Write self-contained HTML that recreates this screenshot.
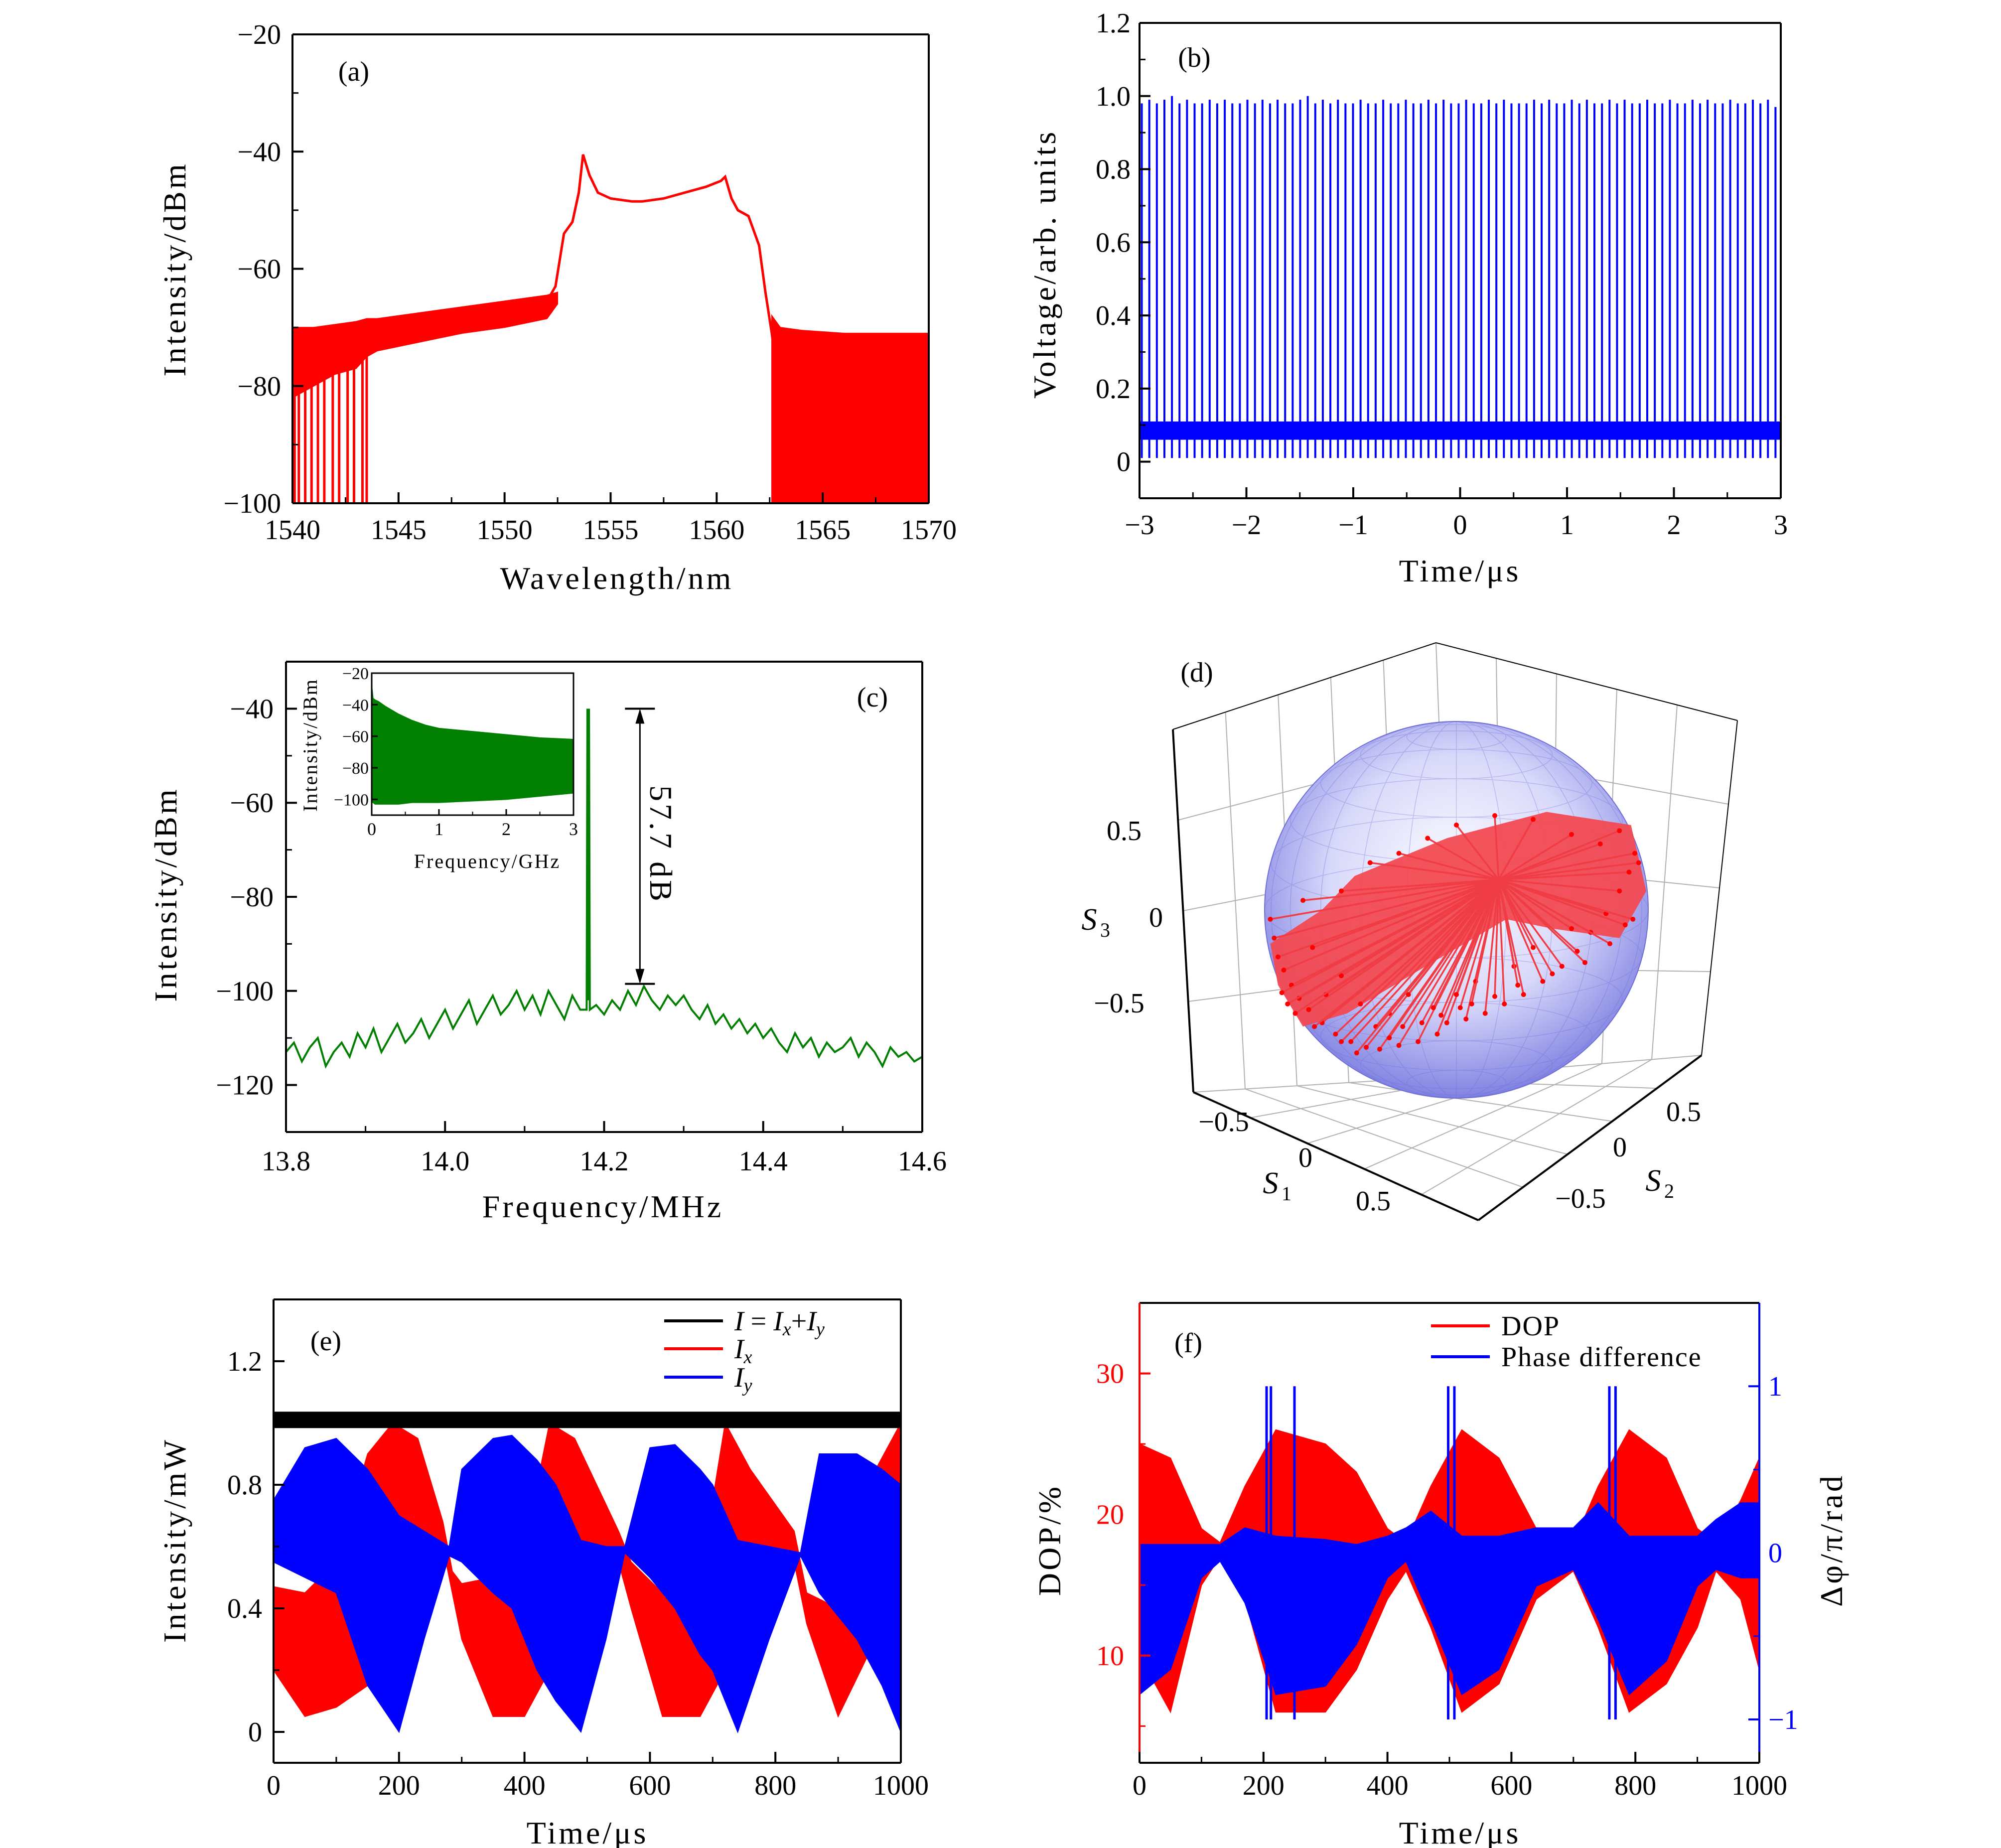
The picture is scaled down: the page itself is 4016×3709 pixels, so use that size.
<!DOCTYPE html>
<html><head><meta charset="utf-8">
<style>
html,body{margin:0;padding:0;background:#fff;}
svg{display:block;font-family:"Liberation Serif","DejaVu Serif",serif;}
</style></head>
<body>
<svg id="fig" width="4016" height="3709" viewBox="0 0 4016 3709" xmlns="http://www.w3.org/2000/svg">
<defs>
<radialGradient id="sphg" cx="0.5" cy="0.42" r="0.6">
<stop offset="0" stop-color="#ffffff"/><stop offset="0.55" stop-color="#d8d8fa"/><stop offset="1" stop-color="#7a7ce0"/>
</radialGradient>
</defs>
</svg>
<script>
// ---------- data ----------
// (a) spectrum
const aWl=[1540,1541,1542,1543,1544,1546,1548,1550,1551,1552,1552.4,1552.8,1553.2,1553.5,1553.7,1554.0,1554.4,1555,1556,1556.5,1557.5,1558.5,1559.5,1560.2,1560.4,1560.7,1561.0,1561.5,1562.0,1562.3,1562.6,1562.9];
const aLvl=[-72,-71.5,-71,-70.5,-70,-69,-68,-67,-66.5,-65.5,-63,-54,-52,-47,-40.5,-44,-47,-48,-48.5,-48.5,-48,-47,-46,-45,-44.3,-48,-50,-51,-56,-64,-71,-80];
const aNoiseWl=[1540,1541,1542,1543,1543.5,1544,1546,1548,1550,1552,1552.5];
const aNoiseHi=[-70,-70,-69.5,-69,-68.5,-68.5,-67.5,-66.5,-65.5,-64.5,-64];
const aNoiseLo=[-82,-80,-78,-77,-75,-74,-72.5,-71,-70,-68.5,-66];
const aRightWl=[1562.6,1563,1564,1566,1568,1570];
const aRightHi=[-68,-70,-70.5,-71,-71,-71];
const aDipWl=[1540.1,1540.3,1540.6,1540.9,1541.2,1541.5,1541.9,1542.2,1542.6,1542.9,1543.3,1543.5,1563.5,1563.7,1564.0,1564.2,1564.5];
// (b) pulse train
const bPeaks=[0.98,0.99,0.98,0.99,1.0,0.98,0.99,0.98,0.98,0.99,0.98,0.99,0.98,0.98,0.99,0.98,0.99,0.98,0.99,0.98,0.98,0.99,1.0,0.98,0.99,0.98,0.99,0.98,0.98,0.99,0.98,0.98,0.99,0.98,0.98,0.99,0.98,0.98,0.99,0.98,0.99,0.98,0.98,0.99,0.98,0.98,0.99,0.98,0.99,0.98,0.98,0.98,0.99,0.98,0.99,0.98,0.98,0.99,0.98,0.99,0.98,0.98,0.99,0.98,0.99,0.98,0.98,0.99,0.98,0.98,0.99,0.98,0.98,0.99,0.98,0.99,0.98,0.98,0.99,0.98,0.98,0.99,0.98,0.99,0.97];
const bBaseHi=0.11, bBaseLo=0.06, bDip=0.01;
// (c) RF spectrum
const cFreqStart=13.8, cFreqStep=0.01;
const cLevels=[-113,-111,-115,-112,-110,-116,-113,-111,-114,-109,-112,-108,-113,-110,-107,-111,-109,-106,-110,-107,-104,-108,-105,-102,-107,-104,-101,-105,-103,-100,-104,-101,-105,-100,-103,-106,-101,-104,-102,-103,-105,-102,-104,-100,-103,-99,-102,-104,-101,-103,-101,-104,-106,-103,-107,-105,-108,-106,-109,-107,-110,-108,-111,-113,-109,-112,-110,-114,-111,-113,-112,-110,-114,-111,-113,-116,-112,-114,-113,-115,-114];
const cPeakFreq=14.18, cPeakLevel=-40, cArrowFreq=14.245, cArrowTop=-40, cArrowBot=-98.5;
const insF=[0,0.02,0.05,0.1,0.2,0.4,0.6,0.8,1.0,1.5,2.0,2.5,3.0];
const insHi=[-28,-36,-37,-38,-41,-46,-50,-53,-55,-57,-59,-61,-62];
const insLo=[-102,-102,-103,-103,-103,-103,-102,-102,-102,-101,-100,-98,-96];
// (e)
const eT=[0,50,100,150,200,240,280,300,350,380,420,450,490,530,560,600,640,680,700,740,790,840,870,930,970,1000];
const eYHi=[0.75,0.92,0.95,0.85,0.7,0.65,0.6,0.85,0.95,0.96,0.88,0.8,0.62,0.6,0.6,0.92,0.93,0.85,0.8,0.62,0.6,0.58,0.9,0.9,0.85,0.8];
const eYLo=[0.55,0.5,0.45,0.15,0.0,0.3,0.57,0.55,0.45,0.4,0.2,0.1,0.0,0.3,0.58,0.5,0.4,0.25,0.2,0.0,0.3,0.57,0.45,0.3,0.15,0.0];
const eRT=[0,50,100,150,190,230,270,285,300,350,400,440,480,550,570,620,680,720,760,830,850,900,960,1000];
const eRHi=[0.47,0.45,0.55,0.9,1.0,0.95,0.68,0.52,0.48,0.5,0.6,1.0,0.95,0.65,0.55,0.45,0.5,1.0,0.85,0.65,0.45,0.4,0.85,1.0];
const eRLo=[0.2,0.05,0.08,0.15,0.45,0.55,0.6,0.45,0.3,0.05,0.05,0.2,0.55,0.55,0.4,0.05,0.05,0.2,0.5,0.55,0.35,0.05,0.3,0.5];
const eTotHi=1.035, eTotLo=0.985;
// (f)
const fT=[0,50,100,130,170,220,300,350,400,430,470,520,580,640,700,740,790,850,900,930,970,1000];
const fDopHi=[25,24,19,18,22,26,25,23,19,18,22,26,24,19,18,22,26,24,19,18,21,24];
const fDopLo=[10,6,15,17,14,6,6,9,14,16,12,6,8,14,16,12,6,8,12,16,14,9];
const fPhHi=[0.05,0.05,0.05,0.05,0.15,0.1,0.08,0.05,0.1,0.15,0.25,0.1,0.1,0.15,0.15,0.3,0.1,0.1,0.1,0.2,0.3,0.3];
const fPhLo=[-0.85,-0.7,-0.15,-0.05,-0.3,-0.85,-0.8,-0.55,-0.15,-0.05,-0.4,-0.85,-0.7,-0.2,-0.1,-0.4,-0.85,-0.65,-0.2,-0.1,-0.15,-0.15];
const fJumpT=[205,212,250,498,508,758,768];
// (d) Poincare sphere (normalized screen coords relative to sphere)
const dHub=[0.22,-0.16];
const dCap=[[-0.97,0.18],[-0.7,0.0],[-0.53,-0.18],[-0.05,-0.38],[0.47,-0.52],[0.91,-0.45],[0.99,-0.1],[0.85,0.15],[0.5,0.1],[0.26,0.05],[-0.16,0.3],[-0.57,0.55],[-0.8,0.62],[-0.93,0.4]];
const dEnds=[[-0.97,0.05],[-0.95,0.15],[-0.93,0.25],[-0.9,0.32],[-0.86,0.4],[-0.82,0.47],[-0.77,0.53],[-0.7,0.6],[-0.63,0.66],[-0.55,0.7],[-0.47,0.73],[-0.4,0.74],[-0.3,0.72],[-0.2,0.7],[-0.1,0.66],[-0.05,0.6],[0.05,0.58],[0.15,0.55],[0.25,0.5],[0.35,0.45],[0.45,0.38],[0.55,0.3],[0.63,0.22],[0.7,0.12],[0.78,0.02],[0.85,-0.1],[0.9,-0.2],[0.93,-0.3],[-0.75,0.2],[-0.6,0.35],[-0.5,0.5],[-0.35,0.55],[-0.25,0.45],[-0.12,0.52],[0.0,0.45],[0.1,0.38],[0.3,0.3],[-0.8,-0.05],[-0.6,-0.1],[-0.45,-0.25],[-0.3,-0.3],[-0.15,-0.38],[0.0,-0.45],[0.2,-0.5],[0.4,-0.48],[0.6,-0.4],[0.75,-0.35],[0.85,-0.42],[0.95,-0.25],[0.92,0.05],[-0.68,0.45],[-0.42,0.62],[-0.18,0.6],[0.08,0.5],[0.4,0.2],[0.6,0.1],[-0.88,0.5],[-0.74,0.62],[-0.6,0.7],[-0.52,0.76],[-0.35,0.68],[-0.28,0.62],[-0.08,0.56],[0.02,0.52],[0.2,0.46],[0.32,0.4],[0.5,0.34],[0.67,0.28],[0.8,0.18],[0.88,0.08],[-0.91,0.44],[-0.84,0.55]];

// ---------- helpers ----------
const svg=document.getElementById('fig');
const NS='http://www.w3.org/2000/svg';
const TK=56, TT=64, LS=5;
function mk(tag,attrs,parent){const e=document.createElementNS(NS,tag);for(const k in attrs)e.setAttribute(k,attrs[k]);(parent||svg).appendChild(e);return e;}
function txt(x,y,s,size,anchor,parent,extra){const t=mk('text',Object.assign({x:x,y:y,'font-size':size,'text-anchor':anchor||'middle'},extra||{}),parent);t.textContent=s;return t;}
function scale(d0,d1,p0,p1){return v=>p0+(v-d0)/(d1-d0)*(p1-p0);}
function band(g,sx,sy,xs,hi,lo,color){let p=[];for(let i=0;i<xs.length;i++)p.push(sx(xs[i])+','+sy(hi[i]));for(let i=xs.length-1;i>=0;i--)p.push(sx(xs[i])+','+sy(lo[i]));return mk('polygon',{points:p.join(' '),fill:color,stroke:color,'stroke-width':2},g);}
function frame(g,x0,x1,y0,y1,cols){
  const c=cols||{};
  mk('line',{x1:x0,y1:y1,x2:x1,y2:y1,stroke:'#000','stroke-width':4},g);
  mk('line',{x1:x0,y1:y0,x2:x1,y2:y0,stroke:'#000','stroke-width':4},g);
  mk('line',{x1:x0,y1:y0,x2:x0,y2:y1,stroke:c.left||'#000','stroke-width':4},g);
  mk('line',{x1:x1,y1:y0,x2:x1,y2:y1,stroke:c.right||'#000','stroke-width':4},g);
}
function xticks(g,sx,y1,vals,minors,labels,ly){
  vals.forEach((v,i)=>{mk('line',{x1:sx(v),y1:y1,x2:sx(v),y2:y1-22,stroke:'#000','stroke-width':4},g);txt(sx(v),ly,labels[i],TK,'middle',g);});
  minors.forEach(v=>mk('line',{x1:sx(v),y1:y1,x2:sx(v),y2:y1-12,stroke:'#000','stroke-width':3},g));
}
function yticks(g,sy,x0,vals,minors,labels,lx,color,dir,anchor){
  const d=dir||1,col=color||'#000';
  vals.forEach((v,i)=>{mk('line',{x1:x0,y1:sy(v),x2:x0+22*d,y2:sy(v),stroke:col,'stroke-width':4},g);txt(lx,sy(v)+19,labels[i],TK,anchor||'end',g,{fill:col});});
  minors.forEach(v=>mk('line',{x1:x0,y1:sy(v),x2:x0+12*d,y2:sy(v),stroke:col,'stroke-width':3},g));
}
function title(x,y,s,g){return txt(x,y,s,TT,'middle',g,{'letter-spacing':LS});}
function rtitle(x,y,s,g,rot,col){return txt(x,y,s,TT,'middle',g,{transform:'rotate('+(rot||-90)+' '+x+' '+y+')',fill:col||'#000','letter-spacing':LS});}
function nm(el,n){return el;}

// ---------- panel (a) ----------
(function(){
const g=mk('g',{});
const X0=587,X1=1864,Y0=69,Y1=1010;
const sx=scale(1540,1570,X0,X1), sy=scale(-100,-20,Y1,Y0);
const n=band(g,sx,sy,aNoiseWl,aNoiseHi,aNoiseLo,'#ff0000');
const r=band(g,sx,sy,aRightWl,aRightHi,aRightWl.map(()=>-100),'#ff0000');
aDipWl.forEach(w=>{const l=mk('line',{x1:sx(w),y1:sy(-72),x2:sx(w),y2:sy(-100),stroke:'#ff0000','stroke-width':5},g);});
const pts=aWl.map((w,i)=>sx(w)+','+sy(aLvl[i])).join(' ');
const pl=mk('polyline',{points:pts,fill:'none',stroke:'#ff0000','stroke-width':5},g);
frame(g,X0,X1,Y0,Y1);
xticks(g,sx,Y1,[1540,1545,1550,1555,1560,1565,1570],[1542.5,1547.5,1552.5,1557.5,1562.5,1567.5],['1540','1545','1550','1555','1560','1565','1570'],1082);
yticks(g,sy,X0,[-100,-80,-60,-40,-20],[-90,-70,-50,-30],['−100','−80','−60','−40','−20'],564);
nm(title(1238,1182,'Wavelength/nm',g),'x-axis-title');
nm(rtitle(372,540,'Intensity/dBm',g),'y-axis-title');
nm(txt(710,162,'(a)',TK,'middle',g),'panel-label');
})();

// ---------- panel (b) ----------
(function(){
const g=mk('g',{});
const X0=2287,X1=3574,Y0=46,Y1=1000;
const sx=scale(-3,3,X0,X1), sy=scale(-0.1,1.2,Y1,Y0);
const N=bPeaks.length;
bPeaks.forEach((p,i)=>{const t=-3+(i+0.3)*6/N;const l=mk('line',{x1:sx(t),y1:sy(bDip),x2:sx(t),y2:sy(p),stroke:'#0000ff','stroke-width':4},g);});
const b=mk('rect',{x:X0,y:sy(bBaseHi),width:X1-X0,height:sy(bBaseLo)-sy(bBaseHi),fill:'#0000ff'},g);
frame(g,X0,X1,Y0,Y1);
xticks(g,sx,Y1,[-3,-2,-1,0,1,2,3],[-2.5,-1.5,-0.5,0.5,1.5,2.5],['−3','−2','−1','0','1','2','3'],1072);
yticks(g,sy,X0,[0,0.2,0.4,0.6,0.8,1.0,1.2],[0.1,0.3,0.5,0.7,0.9,1.1],['0','0.2','0.4','0.6','0.8','1.0','1.2'],2269);
nm(title(2930,1167,'Time/μs',g),'x-axis-title');
nm(rtitle(2118,530,'Voltage/arb. units',g),'y-axis-title');
nm(txt(2397,134,'(b)',TK,'middle',g),'panel-label');
})();

// ---------- panel (c) ----------
(function(){
const g=mk('g',{});
const X0=574,X1=1851,Y0=1328,Y1=2272;
const sx=scale(13.8,14.6,X0,X1), sy=scale(-130,-30,Y1,Y0);
let pts=[];cLevels.forEach((v,i)=>{const f=cFreqStart+i*cFreqStep;pts.push([f,v]);});
pts.push([cPeakFreq-0.002,-104],[cPeakFreq-0.001,cPeakLevel],[cPeakFreq+0.001,cPeakLevel],[cPeakFreq+0.002,-104]);
pts.sort((a,b)=>a[0]-b[0]);
const pl=mk('polyline',{points:pts.map(p=>sx(p[0])+','+sy(p[1])).join(' '),fill:'none',stroke:'#007f00','stroke-width':4},g);
const ax=sx(cArrowFreq);
const ar=mk('line',{x1:ax,y1:sy(cArrowTop)+4,x2:ax,y2:sy(cArrowBot)-4,stroke:'#000','stroke-width':3},g);
mk('line',{x1:ax-30,y1:sy(cArrowTop),x2:ax+30,y2:sy(cArrowTop),stroke:'#000','stroke-width':4},g);
mk('line',{x1:ax-30,y1:sy(cArrowBot),x2:ax+30,y2:sy(cArrowBot),stroke:'#000','stroke-width':4},g);
mk('polygon',{points:`${ax},${sy(cArrowTop)} ${ax-9},${sy(cArrowTop)+30} ${ax+9},${sy(cArrowTop)+30}`,fill:'#000'},g);
mk('polygon',{points:`${ax},${sy(cArrowBot)} ${ax-9},${sy(cArrowBot)-30} ${ax+9},${sy(cArrowBot)-30}`,fill:'#000'},g);
nm(rtitle(1305,1695,'57.7 dB',g,90),'dynamic-range-label');
frame(g,X0,X1,Y0,Y1);
xticks(g,sx,Y1,[13.8,14.0,14.2,14.4,14.6],[13.9,14.1,14.3,14.5],['13.8','14.0','14.2','14.4','14.6'],2349);
yticks(g,sy,X0,[-120,-100,-80,-60,-40],[-130,-110,-90,-70,-50,-30],['−120','−100','−80','−60','−40'],549);
nm(title(1210,2443,'Frequency/MHz',g),'x-axis-title');
nm(rtitle(354,1795,'Intensity/dBm',g),'y-axis-title');
nm(txt(1751,1418,'(c)',TK,'middle',g),'panel-label');
const ig=mk('g',{},g);
const IX0=746,IX1=1151,IY0=1351,IY1=1636;
const isx=scale(0,3,IX0,IX1), isy=scale(-110,-20,IY1,IY0);
nm(band(ig,isx,isy,insF,insHi,insLo,'#007f00'),'inset-spectrum-fill');
mk('rect',{x:IX0,y:IY0,width:IX1-IX0,height:IY1-IY0,fill:'none',stroke:'#000','stroke-width':3},ig);
[0,1,2,3].forEach(v=>{mk('line',{x1:isx(v),y1:IY1,x2:isx(v),y2:IY1-12,stroke:'#000','stroke-width':3},ig);txt(isx(v),IY1+40,String(v),36,'middle',ig);});
[0.5,1.5,2.5].forEach(v=>mk('line',{x1:isx(v),y1:IY1,x2:isx(v),y2:IY1-7,stroke:'#000','stroke-width':2},ig));
[-100,-80,-60,-40,-20].forEach(v=>{mk('line',{x1:IX0,y1:isy(v),x2:IX0+12,y2:isy(v),stroke:'#000','stroke-width':3},ig);txt(IX0-6,isy(v)+12,v<0?'−'+(-v):String(v),34,'end',ig);});
nm(txt(978,1742,'Frequency/GHz',40,'middle',ig,{'letter-spacing':3}),'inset-x-title');
nm(txt(636,1495,'Intensity/dBm',40,'middle',ig,{transform:'rotate(-90 636 1495)','letter-spacing':3}),'inset-y-title');
})();

// ---------- panel (d) ----------
(function(){
const g=mk('g',{});
const L1=[2354,1464],B1=[2882,1290],R1=[3487,1446],L0=[2395,2192],B0=[2915,2160],R0=[3415,2118],F0=[2967,2449];
const lerp=(a,b,t)=>[a[0]+(b[0]-a[0])*t,a[1]+(b[1]-a[1])*t];
const gl=(a,b)=>mk('line',{x1:a[0],y1:a[1],x2:b[0],y2:b[1],stroke:'#b0b0b0','stroke-width':2},g);
[0.2,0.4,0.6,0.8].forEach(t=>{gl(lerp(L1,B1,t),lerp(L0,B0,t));gl(lerp(B1,R1,t),lerp(B0,R0,t));gl(lerp(L0,F0,t),lerp(B0,R0,t));gl(lerp(F0,R0,t),lerp(L0,B0,t));});
[0.25,0.5,0.75].forEach(t=>{gl(lerp(L1,L0,t),lerp(B1,B0,t));gl(lerp(B1,B0,t),lerp(R1,R0,t));});
gl(B1,B0);gl(L0,B0);gl(B0,R0);
const ed=(a,b)=>mk('line',{x1:a[0],y1:a[1],x2:b[0],y2:b[1],stroke:'#000','stroke-width':2},g);
ed(L1,B1);ed(B1,R1);ed(R1,R0);
mk('line',{x1:L1[0],y1:L1[1],x2:L0[0],y2:L0[1],stroke:'#000','stroke-width':4},g);
mk('line',{x1:L0[0],y1:L0[1],x2:F0[0],y2:F0[1],stroke:'#000','stroke-width':4},g);
mk('line',{x1:F0[0],y1:F0[1],x2:R0[0],y2:R0[1],stroke:'#000','stroke-width':4},g);
const CX=2923,CY=1826,RX=385,RY=378;
nm(mk('ellipse',{cx:CX,cy:CY,rx:RX,ry:RY,fill:'url(#sphg)',stroke:'#7070d8','stroke-width':2},g),'sphere');
const sg=mk('g',{opacity:0.3,fill:'none',stroke:'#6a6ad8','stroke-width':1.5},g);
for(let k=1;k<12;k++){const la=-Math.PI/2+k*Math.PI/12;const yy=CY+RY*0.95*Math.sin(la);const rr=RX*Math.cos(la);mk('ellipse',{cx:CX,cy:yy,rx:rr,ry:rr*0.25},sg);}
for(let k=0;k<12;k++){const a=k*Math.PI/12;mk('ellipse',{cx:CX,cy:CY,rx:Math.abs(RX*Math.cos(a)),ry:RY},sg);}
const P=u=>[CX+u[0]*RX,CY+u[1]*RY];
nm(mk('polygon',{points:dCap.map(u=>P(u).join(',')).join(' '),fill:'#f24a52',opacity:0.95},g),'trajectory-cluster');
const hub=P(dHub);
dEnds.forEach(u=>{const e=P(u);const l=mk('line',{x1:hub[0],y1:hub[1],x2:e[0],y2:e[1],stroke:'#f03c44','stroke-width':3.5},g);mk('circle',{cx:e[0],cy:e[1],r:5,fill:'#ff0000'},g);});
const tl=(x,y,s)=>txt(x,y,s,TK,'middle',g);
tl(2256,1686,'0.5');tl(2320,1860,'0');tl(2246,2032,'−0.5');
tl(2456,2270,'−0.5');tl(2620,2342,'0');tl(2756,2429,'0.5');
tl(3379,2250,'0.5');tl(3251,2321,'0');tl(3172,2424,'−0.5');
nm(txt(2186,1866,'S',62,'middle',g,{'font-style':'italic'}),'s3-axis-title');txt(2208,1880,'3',40,'start',g);
nm(txt(2550,2395,'S',62,'middle',g,{'font-style':'italic'}),'s1-axis-title');txt(2572,2409,'1',40,'start',g);
nm(txt(3318,2390,'S',62,'middle',g,{'font-style':'italic'}),'s2-axis-title');txt(3340,2404,'2',40,'start',g);
nm(txt(2402,1368,'(d)',TK,'middle',g),'panel-label');
})();

// ---------- panel (e) ----------
(function(){
const g=mk('g',{});
const X0=549,X1=1808,Y0=2608,Y1=3538;
const sx=scale(0,1000,X0,X1), sy=scale(-0.1,1.4,Y1,Y0);
nm(band(g,sx,sy,eRT,eRHi,eRLo,'#ff0000'),'ix-series');
nm(band(g,sx,sy,eT,eYHi,eYLo,'#0000ff'),'iy-series');
nm(band(g,sx,sy,[0,1000],[eTotHi,eTotHi],[eTotLo,eTotLo],'#000'),'total-intensity-series');
frame(g,X0,X1,Y0,Y1);
xticks(g,sx,Y1,[0,200,400,600,800,1000],[100,300,500,700,900],['0','200','400','600','800','1000'],3602);
yticks(g,sy,X0,[0,0.4,0.8,1.2],[0.2,0.6,1.0],['0','0.4','0.8','1.2'],526);
nm(title(1179,3700,'Time/μs',g),'x-axis-title');
nm(rtitle(372,3091,'Intensity/mW',g),'y-axis-title');
nm(txt(654,2710,'(e)',TK,'middle',g),'panel-label');
const lg=mk('g',{},g);
[['#000',2651],['#ff0000',2707],['#0000ff',2764]].forEach(c=>mk('line',{x1:1333,y1:c[1],x2:1451,y2:c[1],stroke:c[0],'stroke-width':6},lg));
const l1=txt(1474,2670,'',TK,'start',lg);l1.innerHTML='<tspan font-style="italic">I</tspan> = <tspan font-style="italic">I</tspan><tspan font-size="38" dy="10" font-style="italic">x</tspan><tspan dy="-10">+</tspan><tspan font-style="italic">I</tspan><tspan font-size="38" dy="10" font-style="italic">y</tspan>';
const l2=txt(1474,2726,'',TK,'start',lg);l2.innerHTML='<tspan font-style="italic">I</tspan><tspan font-size="38" dy="10" font-style="italic">x</tspan>';
const l3=txt(1474,2783,'',TK,'start',lg);l3.innerHTML='<tspan font-style="italic">I</tspan><tspan font-size="38" dy="10" font-style="italic">y</tspan>';
})();

// ---------- panel (f) ----------
(function(){
const g=mk('g',{});
const X0=2287,X1=3531,Y0=2615,Y1=3538;
const sx=scale(0,1000,X0,X1), sy=scale(2.4,35,Y1,Y0), sy2=scale(-1.26,1.5,Y1,Y0);
nm(band(g,sx,sy,fT,fDopHi,fDopLo,'#ff0000'),'dop-series');
nm(band(g,sx,sy2,fT,fPhHi,fPhLo,'#0000ff'),'phase-difference-series');
fJumpT.forEach(t=>{const l=mk('line',{x1:sx(t),y1:sy2(1),x2:sx(t),y2:sy2(-1),stroke:'#0000ff','stroke-width':5},g);});
frame(g,X0,X1,Y0,Y1,{left:'#ff0000',right:'#0000ff'});
xticks(g,sx,Y1,[0,200,400,600,800,1000],[100,300,500,700,900],['0','200','400','600','800','1000'],3602);
yticks(g,sy,X0,[10,20,30],[5,15,25],['10','20','30'],2256,'#ff0000');
yticks(g,sy2,X1,[-1,0,1],[-0.5,0.5],['−1','0','1'],3549,'#0000ff',-1,'start');
nm(title(2930,3700,'Time/μs',g),'x-axis-title');
nm(rtitle(2128,3091,'DOP/%',g),'left-y-axis-title');
nm(rtitle(3697,3091,'Δφ/π/rad',g,-90),'right-y-axis-title');
nm(txt(2385,2714,'(f)',TK,'middle',g),'panel-label');
const lg=mk('g',{},g);
mk('line',{x1:2872,y1:2661,x2:2990,y2:2661,stroke:'#ff0000','stroke-width':6},lg);
mk('line',{x1:2872,y1:2723,x2:2990,y2:2723,stroke:'#0000ff','stroke-width':6},lg);
txt(3013,2680,'DOP',TK,'start',lg,{'letter-spacing':2});txt(3013,2742,'Phase difference',TK,'start',lg,{'letter-spacing':2});
})();
</script>
</body></html>
